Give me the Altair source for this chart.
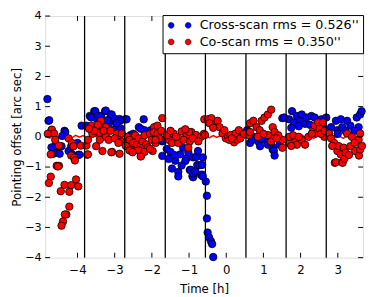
import altair as alt
import pandas as pd

# ---------------- data ----------------
cross_x = [-4.81, -4.78, -4.76, -4.70, -4.35, -4.33, -4.41, -4.65, -4.63, -4.50, -4.48, -4.24, -4.15, -3.98, -3.95,
           -4.61, -4.43, -4.17, -4.00, -4.70, -4.55,
           -3.89, -3.76, -3.67, -3.63, -3.55, -3.52, -3.48, -3.45, -3.37, -3.35, -3.26, -3.24, -3.16, -3.11, -3.08,
           -3.00, -2.98, -2.96, -2.87, -2.85, -2.83, -2.72, -3.40, -3.30, -3.20, -2.95,
           -2.68, -2.22, -2.35, -2.30, -2.20, -2.03, -2.57, -1.72, -1.74, -1.83, -2.50,
           -1.72, -1.55, -1.46, -1.37, -1.29, -1.29, -1.24, -1.16, -1.07, -1.02, -0.98, -0.96, -0.91, -0.89, -0.89,
           -0.89, -0.83, -0.81, -0.78, -0.76, -0.72, -0.68, -0.65, -0.65, -0.63, -0.63, -0.55, -0.52, -0.52, -0.50,
           -0.46, -0.41, -0.38, -0.35, -1.60, -1.50, -1.40, -1.10, -1.20,
           0.56, 0.61, 0.64, 0.73, 0.86, 0.91, 1.03, 1.12, 1.25, 1.26, 1.28, 1.30, 1.43, 1.51, 0.70, 0.95, 1.20,
           1.56, 1.69, 1.77, 1.82, 1.90, 1.99, 2.03, 2.12, 2.16, 2.29, 2.38, 2.56, 2.69, 1.95, 2.25, 2.45, 2.60, 1.75,
           2.82, 2.95, 2.99, 3.08, 3.12, 3.25, 3.34, 3.51, 3.56, 3.60, 3.64, 3.00, 3.20, 3.45]
cross_y = [1.25, 0.53, 0.55, 0.22, 0.20, 0.16, 0.03, -0.56, -0.52, -0.54, -0.56, -0.47, -0.57, -0.60, -0.59,
           -0.31, -0.31, -0.31, -0.20, -0.35, -0.30,
           0.37, 0.37, 0.69, 0.64, 0.85, 0.85, 0.59, 0.70, 0.69, 0.48, 0.85, 0.87, 0.43, 0.74, 0.74,
           0.60, 0.27, 0.48, 0.59, 0.53, 0.27, 0.58, 0.50, 0.45, 0.55, 0.45,
           0.58, 0.58, 0.32, 0.27, 0.22, 0.22, 0.06, -0.15, -0.10, 0.06, 0.10,
           -0.63, -0.73, -1.05, -0.79, -1.16, -1.31, -0.58, -0.36, -0.72, -0.52, -1.10, -1.09, -1.30, -0.68, -1.34,
           -1.21, -1.14, -0.67, -0.93, -0.47, -0.94, -1.26, -1.25, -0.93, -0.68, -1.31, -1.48, -1.95, -2.70, -3.17,
           -3.33, -3.46, -3.55, -3.98, -0.40, -0.50, -0.60, -0.80, -0.95,
           0.22, 0.16, -0.20, 0.00, -0.15, -0.31, -0.10, -0.26, -0.42, -0.36, -0.46, -0.62, -0.26, 0.62, -0.10, -0.05, -0.20,
           0.64, 0.58, 0.85, 0.48, 0.69, 0.53, 0.74, 0.43, 0.64, 0.69, 0.64, 0.58, 0.64, 0.35, 0.40, 0.30, 0.35, 0.30,
           0.32, 0.53, 0.22, 0.58, 0.32, 0.53, 0.37, 0.64, 0.32, 0.74, 0.85, 0.10, 0.20, 0.20]

co_x = [-4.72, -4.77, -4.45, -4.35, -4.17, -4.22, -4.04, -3.98, -4.22, -4.30, -4.34, -4.39, -4.43, -4.56, -4.50,
        -4.53, -4.17, -4.09, -4.07, -3.74, -4.69, -4.63, -4.50, -4.24, -4.15, -4.11, -4.72, -3.91, -3.76, -3.72,
        -4.80, -4.60,
        -3.63, -3.39, -3.50, -3.37, -3.42, -3.24, -3.11, -2.94, -2.81, -3.24, -3.72, -3.16, -2.81, -3.50, -3.33,
        -3.07, -2.87, -3.60, -3.45, -3.30, -3.00, -2.90, -3.55, -3.69, -3.40, -3.09,
        -2.68, -2.55, -2.42, -2.29, -1.98, -1.94, -1.85, -1.72, -2.65, -2.60, -2.50, -2.45, -2.40, -2.35, -2.30,
        -2.25, -2.20, -2.15, -2.10, -2.05, -2.00, -1.95, -1.90, -1.85, -1.80, -1.75, -2.35, -2.20, -2.05, -1.90,
        -2.70, -2.60, -2.52, -2.30,
        -1.55, -1.46, -1.42, -1.20, -1.07, -0.94, -0.81, -0.68, -0.98, -1.29, -1.02, -0.59, -1.60, -1.35, -1.15,
        -0.90, -0.75, -0.60, -1.00, -0.57, -1.50, -1.10,
        -0.49, -0.40, -0.31, -0.23, -0.18, -0.10, -0.05, -0.01, 0.05, 0.12, 0.21, 0.25, 0.29, 0.34, 0.43, -0.45,
        -0.35, 0.08, 0.15, 0.38, 0.48,
        0.60, 0.64, 0.64, 0.73, 0.82, 0.90, 0.95, 1.03, 1.12, 1.21, 1.25, 1.30, 1.12, 1.21, 1.51, 1.51, 1.40,
        0.85, 1.00, 1.35,
        1.69, 1.69, 1.86, 1.90, 2.03, 2.12, 2.21, 2.34, 2.38, 2.42, 2.47, 2.51, 2.60, 2.64, 1.80, 1.95, 2.30,
        2.55, 2.65, 1.75,
        2.77, 2.82, 2.90, 2.92, 2.95, 2.99, 3.03, 3.08, 3.12, 3.13, 3.16, 3.18, 3.21, 3.25, 3.34, 3.38, 3.47,
        3.56, 3.57, 3.60, 3.60, 3.65, 2.85, 3.30, 3.45]
co_y = [-1.32, -1.53, -1.80, -1.59, -1.60, -1.82, -1.41, -1.64, -2.31, -2.57, -2.57, -2.80, -2.94, -0.96, -0.96,
        -0.98, -0.62, -0.69, -0.78, -0.59, 0.24, 0.11, -0.29, -0.05, -0.20, -0.31, -0.58, -0.29, -0.29, -0.58,
        0.10, -0.10,
        0.37, 0.48, 0.27, 0.53, 0.13, 0.32, 0.20, 0.11, 0.11, 0.00, -0.10, -0.10, -0.15, -0.31, -0.47,
        -0.50, -0.56, 0.10, 0.40, 0.20, -0.05, -0.20, 0.20, 0.27, -0.10, -0.51,
        -0.15, -0.31, -0.42, -0.63, -0.47, 0.32, 0.37, 0.62, 0.00, -0.10, -0.20, 0.05, -0.25, -0.05, -0.30,
        -0.15, 0.05, -0.25, -0.35, 0.10, -0.10, 0.15, -0.20, 0.10, -0.05, 0.20, -0.45, -0.50, -0.40, -0.10,
        -0.30, -0.45, -0.51, -0.65,
        -0.10, -0.20, 0.11, 0.18, 0.06, 0.16, 0.06, 0.00, -0.15, -0.20, -0.36, 0.58, 0.05, 0.00, -0.10,
        -0.05, -0.15, 0.10, 0.16, 0.06, 0.20, 0.25,
        0.58, 0.62, 0.43, 0.53, 0.32, 0.11, 0.22, -0.05, 0.00, 0.06, -0.18, 0.11, -0.10, 0.22, 0.06, 0.45,
        0.30, -0.10, -0.05, -0.05, 0.10,
        0.06, 0.16, 0.45, 0.53, 0.32, 0.22, 0.53, 0.64, 0.74, 0.90, 0.32, 0.16, 0.06, -0.15, -0.10, -0.36, 0.05,
        0.00, 0.10, -0.05,
        -0.20, 0.00, -0.15, -0.26, -0.10, -0.26, 0.00, 0.22, 0.37, 0.11, 0.48, 0.27, 0.48, 0.00, 0.05, 0.00, 0.10,
        0.10, 0.20, -0.30,
        0.11, -0.05, -0.20, -0.86, -0.84, -0.47, -0.31, -0.58, -0.84, -0.86, -0.36, -0.72, -0.52, 0.11, -0.31,
        0.00, -0.47, -0.10, -0.62, 0.11, -0.42, -0.30, -0.30, -0.60, -0.20]

model_x = [-4.85, -4.75, -4.65, -4.55, -4.45, -4.35, -4.25, -4.15, -4.05, -3.95, -3.85, -3.75, -3.65, -3.55,
           -3.45, -3.35, -3.25, -3.15, -3.05, -2.95, -2.85, -2.75, -2.65, -2.55, -2.45, -2.35, -2.25, -2.15,
           -2.05, -1.95, -1.85, -1.75, -1.65, -1.55, -1.45, -1.35, -1.25, -1.15, -1.05, -0.95, -0.85, -0.75,
           -0.65, -0.55, -0.45, -0.35, -0.25, -0.15, -0.05, 0.05, 0.15, 0.25, 0.35, 0.45, 0.55, 0.65, 0.75,
           0.85, 0.95, 1.05, 1.15, 1.25, 1.35, 1.45, 1.55, 1.65, 1.75, 1.85, 1.95, 2.05, 2.15, 2.25, 2.35,
           2.45, 2.55, 2.65, 2.75, 2.85, 2.95, 3.05, 3.15, 3.25, 3.35, 3.45, 3.55, 3.65]
model_y = [0.03, -0.04, 0.05, -0.02, 0.04, -0.05, 0.02, -0.03, 0.05, -0.01, 0.04, -0.04, 0.02, 0.05,
           -0.03, 0.03, -0.05, 0.04, -0.02, 0.03, -0.04, 0.05, -0.02, 0.03, -0.05, 0.02, 0.04, -0.03,
           0.05, -0.04, 0.02, -0.02, 0.04, -0.05, 0.03, -0.02, 0.05, -0.04, 0.02, 0.04, -0.03, 0.03,
           -0.05, 0.02, -0.03, 0.04, -0.02, 0.05, -0.04, 0.03, -0.02, 0.04, -0.05, 0.03, 0.02, -0.04, 0.05,
           -0.03, 0.02, 0.04, -0.05, 0.03, -0.02, 0.05, -0.03, 0.02, -0.04, 0.04, -0.02, 0.05, -0.03, 0.02,
           -0.05, 0.04, -0.02, 0.03, -0.04, 0.05, -0.03, 0.02, -0.05, 0.04, -0.02, 0.03, -0.04, 0.02]

block_edges = [-3.81, -2.73, -1.64, -0.56, 0.53, 1.61, 2.69]
x_ticks = [-4, -3, -2, -1, 0, 1, 2, 3]
y_ticks = [-4, -3, -2, -1, 0, 1, 2, 3, 4]

cross_label = "Cross-scan rms = 0.526''"
co_label = "Co-scan rms = 0.350''"

# ---------------- chart ----------------
PAD_L, PAD_T, PAD_R, PAD_B = 38, 5, 3, 37
W, H = 374 - 8 - PAD_L - PAD_R, 297 - 8 - PAD_T - PAD_B
FONT = "DejaVu Sans"

# two small circles side by side (legend shows two markers per entry)
TWO_DOTS = ("M -3.9,0 A 1,1 0 1,1 -1.9,0 A 1,1 0 1,1 -3.9,0 Z "
            "M 1.9,0 A 1,1 0 1,1 3.9,0 A 1,1 0 1,1 1.9,0 Z")

pts = pd.concat([
    pd.DataFrame({"t": cross_x, "off": cross_y, "series": cross_label}),
    pd.DataFrame({"t": co_x, "off": co_y, "series": co_label}),
], ignore_index=True)
pts["order"] = range(len(pts))

xscale = alt.Scale(domain=[-4.87, 3.68], nice=False, zero=False)
yscale = alt.Scale(domain=[-4, 4], nice=False, zero=False)

xaxis = alt.Axis(values=x_ticks, title="Time [h]", ticks=False, domain=False, grid=False,
                 labelFontSize=12, titleFontSize=12, labelFont=FONT, titleFont=FONT,
                 labelPadding=7, titlePadding=9, labelColor="black", titleColor="black",
                 titleFontWeight="normal", format="d", labelOverlap=False)
yaxis = alt.Axis(values=y_ticks, title="Pointing offset [arc sec]", ticks=False, domain=False, grid=False,
                 labelFontSize=11.5, titleFontSize=12, labelFont=FONT, titleFont=FONT,
                 labelPadding=4, titlePadding=1, labelColor="black", titleColor="black",
                 titleFontWeight="normal", format="d", labelOverlap=False)


def X(field):
    return alt.X(field, scale=xscale, axis=xaxis)


def Y(field):
    return alt.Y(field, scale=yscale, axis=yaxis)


model = alt.Chart(pd.DataFrame({"t": model_x, "off": model_y})).mark_line(
    color="#ff0000", strokeWidth=1.5
).encode(x=X("t:Q"), y=Y("off:Q"))

points = alt.Chart(pts).mark_circle(size=58, stroke="black", strokeWidth=0.8, opacity=1).encode(
    x=X("t:Q"),
    y=Y("off:Q"),
    color=alt.Color("series:N",
                    scale=alt.Scale(domain=[cross_label, co_label], range=["#0000ff", "#ff0000"]),
                    legend=alt.Legend(title=None, orient="none", legendX=120, legendY=-1,
                                      strokeColor="black", fillColor="white", padding=4,
                                      cornerRadius=0, symbolType=TWO_DOTS, symbolSize=36,
                                      symbolStrokeColor="black", symbolStrokeWidth=0.5,
                                      symbolOffset=7, labelFontSize=13, labelFont=FONT,
                                      labelLimit=300, labelColor="black", labelOffset=14,
                                      rowPadding=3)),
    order=alt.Order("order:Q"),
)

edges = alt.Chart(pd.DataFrame({"t": block_edges})).mark_rule(color="black", strokeWidth=1.3).encode(
    x=X("t:Q"))

xt = pd.DataFrame({"t": x_ticks})
yt = pd.DataFrame({"off": y_ticks})
tick_b = alt.Chart(xt).mark_rule(color="black").encode(
    x=X("t:Q"), y=alt.value(H), y2=alt.value(H - 5))
tick_t = alt.Chart(xt).mark_rule(color="black").encode(
    x=X("t:Q"), y=alt.value(0), y2=alt.value(5))
tick_l = alt.Chart(yt).mark_rule(color="black").encode(
    y=Y("off:Q"), x=alt.value(0), x2=alt.value(5))
tick_r = alt.Chart(yt).mark_rule(color="black").encode(
    y=Y("off:Q"), x=alt.value(W), x2=alt.value(W - 5))

chart = alt.layer(model, points, edges, tick_b, tick_t, tick_l, tick_r).properties(
    width=W, height=H,
    autosize=alt.AutoSizeParams(type="none"),
    padding={"left": PAD_L, "top": PAD_T, "right": PAD_R, "bottom": PAD_B},
).configure_view(stroke="black", strokeWidth=1.2).configure(background="white")

chart.save("out.html", embed_options={"renderer": "svg", "actions": False})
